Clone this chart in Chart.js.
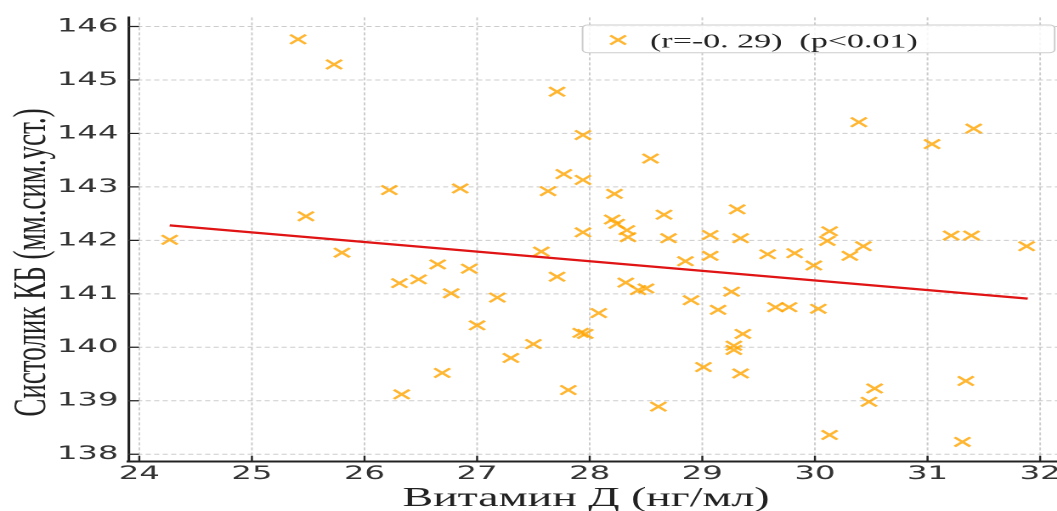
<!DOCTYPE html>
<html>
<head>
<meta charset="utf-8">
<script src="https://cdn.jsdelivr.net/npm/chart.js@4.4.1/dist/chart.umd.min.js"></script>
<style>
  html, body { margin: 0; padding: 0; background: #fff; overflow: hidden; }
  /* the source figure is stretched sideways, so the whole chart is too */
  #wrap { width: 640px; height: 511px; transform: scaleX(1.6994); transform-origin: 0 0; }
</style>
</head>
<body>
<div id="wrap"><canvas id="scatterChart" width="640" height="511"></canvas></div>
<script>
// Vitamin D (ng/ml) vs systolic BP
const vitaminD = [
    24.27, 25.41, 25.73, 25.48, 25.80, 26.22, 26.85, 27.71, 27.94, 28.54,
    27.77, 27.94, 27.63, 28.22, 28.66, 28.20, 28.24, 28.33, 28.34, 28.70,
    27.94, 28.85, 27.57, 26.65, 26.31, 26.48, 26.93, 26.77, 27.18, 27.71,
    27.00, 28.08, 27.92, 27.96, 27.50, 27.30, 26.69, 26.33, 27.81, 28.61,
    28.32, 28.43, 28.50, 28.90, 30.39, 31.04, 31.41, 29.31, 29.07, 29.34,
    29.07, 29.58, 29.82, 30.13, 30.11, 30.43, 30.31, 31.21, 31.39, 31.88,
    29.99, 29.14, 29.26, 29.65, 29.77, 30.03, 29.36, 29.28, 29.28, 29.01,
    29.34, 30.53, 30.48, 31.34, 30.13, 31.31
];
const systolic = [
    142.01, 145.76, 145.29, 142.45, 141.77, 142.94, 142.97, 144.78, 143.97, 143.53,
    143.24, 143.13, 142.92, 142.87, 142.48, 142.39, 142.31, 142.19, 142.06, 142.04,
    142.15, 141.61, 141.79, 141.55, 141.20, 141.27, 141.47, 141.01, 140.93, 141.32,
    140.41, 140.64, 140.27, 140.25, 140.06, 139.80, 139.52, 139.12, 139.20, 138.89,
    141.21, 141.07, 141.10, 140.88, 144.21, 143.80, 144.09, 142.58, 142.10, 142.04,
    141.71, 141.74, 141.76, 142.17, 141.99, 141.89, 141.71, 142.09, 142.09, 141.89,
    141.53, 140.70, 141.04, 140.75, 140.75, 140.72, 140.25, 140.03, 139.95, 139.63,
    139.51, 139.23, 138.98, 139.37, 138.36, 138.23
];
const trendX = [24.27, 31.89];
const trendY = [142.28, 140.91];

const xTicks = [24, 25, 26, 27, 28, 29, 30, 31, 32];
const yTicks = [138, 139, 140, 141, 142, 143, 144, 145, 146];

const xTitle = 'Витамин Д (нг/мл)';
const yTitle = 'Систолик КБ (мм.сим.уст.)';
const legendLabel = '(r=-0. 29)  (p<0.01)';

const MARKER_COLOR = 'rgba(255, 165, 0, 0.8)';
const LINE_COLOR = '#e01414';
const AXIS_COLOR = '#222';
const GRID_COLOR = '#cccccc';
const SERIF = '"Liberation Serif", "Times New Roman", serif';
const MARKER_R = 6.5;

const points = vitaminD.map((v, i) => ({ x: v, y: systolic[i] }));
const trend = trendX.map((v, i) => ({ x: v, y: trendY[i] }));

// dashed grid under the data
const dashedGrid = {
    id: 'dashedGrid',
    beforeDatasetsDraw(chart) {
        const { ctx, chartArea, scales: { x, y } } = chart;
        ctx.save();
        ctx.strokeStyle = GRID_COLOR;
        ctx.lineWidth = 1;
        ctx.setLineDash([3, 2]);
        ctx.beginPath();
        xTicks.forEach(v => {
            const px = x.getPixelForValue(v);
            ctx.moveTo(px, chartArea.top);
            ctx.lineTo(px, chartArea.bottom);
        });
        yTicks.forEach(v => {
            const py = y.getPixelForValue(v);
            ctx.moveTo(chartArea.left, py);
            ctx.lineTo(chartArea.right, py);
        });
        ctx.stroke();
        ctx.restore();
    }
};

// inward ticks, axis titles and the boxed legend
const axisExtras = {
    id: 'axisExtras',
    afterDraw(chart) {
        const { ctx, chartArea, scales: { x, y } } = chart;
        ctx.save();
        ctx.strokeStyle = AXIS_COLOR;
        ctx.lineWidth = 1.2;
        ctx.beginPath();
        xTicks.forEach(v => {
            const px = x.getPixelForValue(v);
            ctx.moveTo(px, chartArea.bottom);
            ctx.lineTo(px, chartArea.bottom - 6);
        });
        yTicks.forEach(v => {
            const py = y.getPixelForValue(v);
            ctx.moveTo(chartArea.left, py);
            ctx.lineTo(chartArea.left + 6, py);
        });
        ctx.stroke();

        ctx.fillStyle = AXIS_COLOR;
        ctx.font = '27px ' + SERIF;
        ctx.textAlign = 'center';
        ctx.textBaseline = 'alphabetic';
        ctx.fillText(xTitle, (chartArea.left + chartArea.right) / 2 - 4, 506);
        ctx.save();
        ctx.translate(26.5, 262.5);
        ctx.rotate(-Math.PI / 2);
        ctx.fillText(yTitle, 0, 0);
        ctx.restore();

        // legend
        ctx.beginPath();
        ctx.roundRect(342.8, 25, 277.8, 27.7, 3);
        ctx.fillStyle = 'rgba(255,255,255,0.85)';
        ctx.fill();
        ctx.strokeStyle = '#cccccc';
        ctx.lineWidth = 1;
        ctx.stroke();

        const mx = 363.7, my = 40, d = MARKER_R * Math.SQRT1_2;
        ctx.strokeStyle = MARKER_COLOR;
        ctx.lineWidth = 2;
        ctx.beginPath();
        ctx.moveTo(mx - d, my - d); ctx.lineTo(mx + d, my + d);
        ctx.moveTo(mx - d, my + d); ctx.lineTo(mx + d, my - d);
        ctx.stroke();

        ctx.fillStyle = AXIS_COLOR;
        ctx.font = '20px ' + SERIF;
        ctx.textAlign = 'left';
        ctx.fillText(legendLabel, 382.5, 47.5);
        ctx.restore();
    }
};

const tickFont = { family: '"DejaVu Sans", sans-serif', size: 19 };

new Chart(document.getElementById('scatterChart'), {
    type: 'scatter',
    data: {
        datasets: [
            {
                type: 'line',
                data: trend,
                borderColor: LINE_COLOR,
                borderWidth: 2.2,
                pointRadius: 0,
                fill: false
            },
            {
                data: points,
                pointStyle: 'crossRot',
                pointRadius: MARKER_R,
                borderColor: MARKER_COLOR,
                backgroundColor: MARKER_COLOR,
                pointBorderWidth: 2
            }
        ]
    },
    options: {
        responsive: false,
        devicePixelRatio: 2,
        animation: false,
        // right padding sits past the visible edge (the source is cropped there)
        layout: { padding: { top: 15, right: 18, left: 0, bottom: 0 } },
        plugins: { legend: { display: false }, tooltip: { enabled: false } },
        scales: {
            x: {
                type: 'linear',
                min: 23.906,
                max: 32.15,
                afterBuildTicks: (scale) => { scale.ticks = xTicks.map(v => ({ value: v })); },
                afterFit: (scale) => { scale.height = 49.3; },
                ticks: { font: tickFont, color: '#333', padding: 1, maxRotation: 0, callback: v => v },
                grid: { display: false, drawTicks: false },
                border: { display: true, color: AXIS_COLOR, width: 2 }
            },
            y: {
                type: 'linear',
                min: 137.86,
                max: 146.17,
                afterBuildTicks: (scale) => { scale.ticks = yTicks.map(v => ({ value: v })); },
                afterFit: (scale) => { scale.width = 75.73; },
                ticks: { font: tickFont, color: '#333', padding: 6, callback: v => v },
                grid: { display: false, drawTicks: false },
                border: { display: true, color: AXIS_COLOR, width: 1.6 }
            }
        }
    },
    plugins: [dashedGrid, axisExtras]
});
</script>
</body>
</html>
